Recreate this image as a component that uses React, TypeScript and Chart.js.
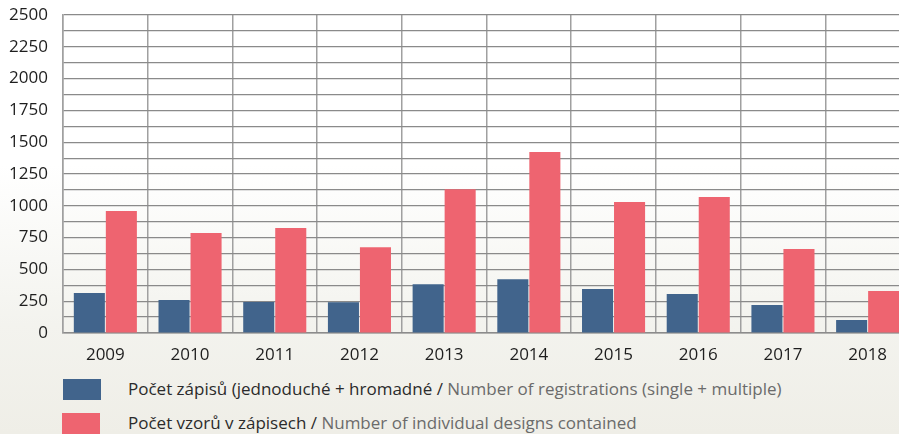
import React, { useEffect, useRef } from "react";
import { Chart, registerables } from "chart.js";

Chart.register(...registerables);

const years = ["2009", "2010", "2011", "2012", "2013", "2014", "2015", "2016", "2017", "2018"];
const registrations = [314, 259, 244, 242, 384, 422, 346, 307, 220, 102];
const designs = [959, 786, 825, 675, 1131, 1422, 1030, 1069, 660, 330];
const yMax = 2500;
const yStep = 125;
const yLabelStep = 250;

const legendItems = [
  { color: "#41648c", cz: "Počet zápisů (jednoduché + hromadné / ", en: "Number of registrations (single + multiple)" },
  { color: "#ee6470", cz: "Počet vzorů v zápisech / ", en: "Number of individual designs contained" },
];

const FONT = "'Open Sans', 'Noto Sans', sans-serif";

export default function App() {
  const ref = useRef<HTMLCanvasElement>(null);

  useEffect(() => {
    if (!ref.current) return;
    const chart = new Chart(ref.current, {
      type: "bar",
      data: {
        labels: years,
        datasets: [
          {
            label: legendItems[0].cz + legendItems[0].en,
            data: registrations,
            backgroundColor: legendItems[0].color,
            barPercentage: 0.97,
            categoryPercentage: 0.756,
          },
          {
            label: legendItems[1].cz + legendItems[1].en,
            data: designs,
            backgroundColor: legendItems[1].color,
            barPercentage: 0.97,
            categoryPercentage: 0.756,
          },
        ],
      },
      options: {
        responsive: false,
        animation: false,
        layout: { padding: { top: 15, right: 5, bottom: 0, left: 0 } },
        plugins: { legend: { display: false }, tooltip: { enabled: false } },
        scales: {
          x: {
            offset: true,
            grid: { color: "#a0a0a0", lineWidth: 1.5, drawTicks: false, offset: true },
            border: { color: "#8c8c8c", width: 1.5 },
            ticks: { color: "#1e1e1e", font: { family: FONT, size: 17 }, padding: 12, maxRotation: 0 },
            afterFit: (s: any) => {
              s.height = 39;
              s.paddingLeft = 0;
              s.paddingRight = 0;
            },
          },
          y: {
            min: 0,
            max: yMax,
            grid: { color: "#8a8a8a", lineWidth: 1.2, drawTicks: false },
            border: { color: "#a0a0a0", width: 1.5 },
            ticks: {
              stepSize: yStep,
              autoSkip: false,
              color: "#1e1e1e",
              font: { family: FONT, size: 17 },
              padding: 15,
              callback: (v: any) => (Number(v) % yLabelStep === 0 ? String(v) : ""),
            },
            afterFit: (s: any) => {
              s.width = 63;
              s.paddingTop = 0;
              s.paddingBottom = 0;
            },
          },
        },
      },
    });
    return () => chart.destroy();
  }, []);

  return (
    <div
      style={{
        position: "fixed",
        left: 0,
        top: 0,
        width: 899,
        height: 434,
        overflow: "hidden",
        background: "linear-gradient(to bottom, #ffffff 0%, #ffffff 38%, #f3f3ee 75%, #efeee7 100%)",
        fontFamily: FONT,
      }}
    >
      <canvas ref={ref} width={915} height={372} style={{ position: "absolute", left: 0, top: 0 }} />
      {legendItems.map((it, i) => (
        <div key={i} style={{ position: "absolute", left: 0, top: 379 + i * 34, height: 22, width: 899 }}>
          <div style={{ position: "absolute", left: 63 - i, top: 0, width: 38, height: 21, background: it.color }} />
          <div
            style={{
              position: "absolute",
              left: 128,
              top: -1,
              fontSize: 17,
              lineHeight: "22px",
              whiteSpace: "nowrap",
              color: "#2b2b2b",
            }}
          >
            {it.cz}
            <span style={{ color: "#6b6b6b" }}>{it.en}</span>
          </div>
        </div>
      ))}
    </div>
  );
}
